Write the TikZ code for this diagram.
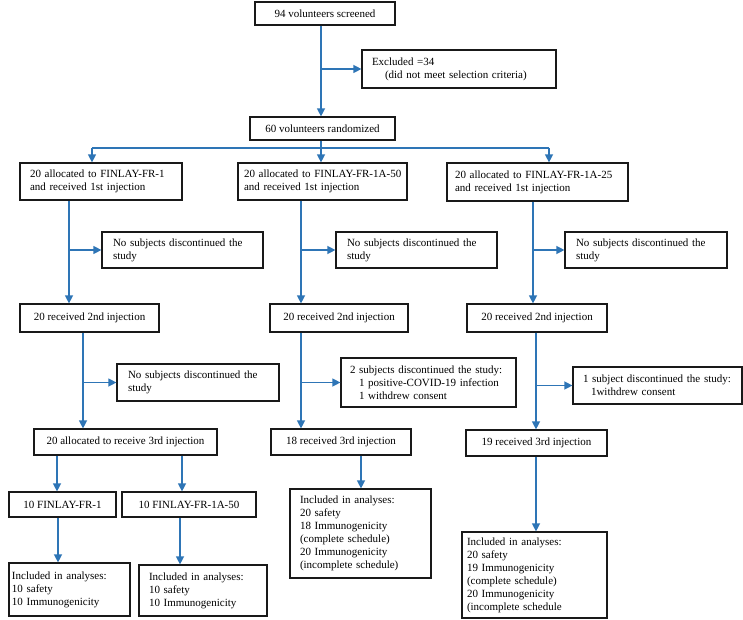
\documentclass[tikz,border=0pt]{standalone}
\usepackage{fontspec}
\setmainfont{Liberation Serif}
\usetikzlibrary{arrows.meta}
\definecolor{flowblue}{RGB}{46,117,182}
\tikzset{
  box/.style={draw=black!90, line width=1.2pt, inner sep=0pt, font=\fontsize{11}{13}\selectfont, align=left},
  cbox/.style={box, align=center},
  flow/.style={draw=flowblue, line width=1.3pt, -{Triangle[length=8pt,width=8pt]}},
  link/.style={draw=flowblue, line width=1.3pt},
}
% name, left, top, right, bottom, left padding, text
\newcommand\bx[7]{%
  \pgfmathsetmacro\bxw{#4-#2}%
  \pgfmathsetmacro\bxh{#5-#3}%
  \pgfmathsetmacro\bxt{#4-#2-2*#6}%
  \node[box, minimum width=\bxw pt, minimum height=\bxh pt, text width=\bxt pt] (#1) at ({(#2+#4)/2},{(#3+#5)/2}) {#7};}
% centred single line box: name, left, top, right, bottom, text
\newcommand\cbx[6]{%
  \pgfmathsetmacro\bxw{#4-#2}%
  \pgfmathsetmacro\bxh{#5-#3}%
  \node[cbox, minimum width=\bxw pt, minimum height=\bxh pt] (#1) at ({(#2+#4)/2},{(#3+#5)/2}) {#6};}
\begin{document}
\begin{tikzpicture}[x=1pt,y=-1pt]
\useasboundingbox (0,0) rectangle (743,620);
% boxes
\cbx{A}{255}{2}{395}{25}{94 volunteers screened}
\bx{B}{362}{50}{556}{88}{10}{Excluded =34\\\hspace*{13pt}(did not meet selection criteria)}
\cbx{R}{250}{117}{395}{140}{60 volunteers randomized}
\bx{C1}{20}{163}{182}{200}{10}{20 allocated to FINLAY-FR-1\\and received 1st injection}
\bx{C2}{238}{163}{407}{200}{6}{\mbox{20 allocated to FINLAY-FR-1A-50}\\and received 1st injection}
\bx{C3}{447}{163}{628}{201}{8}{\mbox{20 allocated to FINLAY-FR-1A-25}\\and received 1st injection}
\bx{N1}{102}{232}{263}{268}{11}{No subjects discontinued the\\study}
\bx{N2}{336}{232}{497}{268}{11}{No subjects discontinued the\\study}
\bx{N3}{565}{232}{727}{268}{11}{No subjects discontinued the\\study}
\cbx{D1}{20}{304}{159}{332}{20 received 2nd injection}
\cbx{D2}{270}{304}{408}{332}{20 received 2nd injection}
\cbx{D3}{467}{304}{607}{332}{20 received 2nd injection}
\bx{E1}{117}{364}{279}{401}{11}{No subjects discontinued the\\study}
\bx{E2}{341}{358}{516}{407}{9}{\mbox{2 subjects discontinued the study:}\\\hspace*{9pt}1 positive-COVID-19 infection\\\hspace*{9pt}1 withdrew consent}
\bx{E3}{573}{367}{742}{404}{10}{\mbox{1 subject discontinued the study:}\\\hspace*{8pt}1withdrew consent}
\cbx{F1}{34}{429}{217}{455}{20 allocated to receive 3rd injection}
\cbx{F2}{271}{429}{411}{455}{18 received 3rd injection}
\cbx{F3}{466}{430}{607}{456}{19 received 3rd injection}
\cbx{G1}{9}{492}{116}{517}{10 FINLAY-FR-1}
\cbx{G2}{122}{492}{256}{517}{10 FINLAY-FR-1A-50}
\bx{H1}{9}{563}{130}{616}{3}{Included in analyses:\\10 safety\\10 Immunogenicity}
\bx{H2}{139}{565}{267}{616}{10}{Included in analyses:\\10 safety\\10 Immunogenicity}
\bx{I2}{290}{489}{431}{578}{10}{Included in analyses:\\20 safety\\18 Immunogenicity\\(complete schedule)\\20 Immunogenicity\\(incomplete schedule)}
\bx{I3}{462}{532}{607}{618}{5}{Included in analyses:\\20 safety\\19 Immunogenicity\\(complete schedule)\\20 Immunogenicity\\(incomplete schedule}
% column positions
\coordinate (k0) at (321,0);
\coordinate (hl) at (92,148);
\coordinate (hr) at (549,148);
\coordinate (c1) at (69,0);
\coordinate (c2) at (301,0);
\coordinate (c3) at (533,0);
\coordinate (d1) at (83,0);
\coordinate (d2) at (301,0);
\coordinate (d3) at (536,0);
\coordinate (g1) at (57,0);
\coordinate (g2) at (182,0);
\coordinate (h1) at (58,0);
\coordinate (h2) at (180,0);
\coordinate (i2) at (361,0);
\coordinate (i3) at (536,0);
% connectors
\draw[flow] (A.south -| k0) -- (R.north -| k0);
\draw[flow] (B.west -| k0) -- (B.west);
\draw[flow] (R.south -| k0) -- (C2.north -| k0);
\draw[link] (hl) -- (hr);
\draw[flow] (hl) -- (C1.north -| hl);
\draw[flow] (hr) -- (C3.north -| hr);
\draw[flow] (C1.south -| c1) -- (D1.north -| c1);
\draw[flow] (C2.south -| c2) -- (D2.north -| c2);
\draw[flow] (C3.south -| c3) -- (D3.north -| c3);
\draw[flow] (N1.west -| c1) -- (N1.west);
\draw[flow] (N2.west -| c2) -- (N2.west);
\draw[flow] (N3.west -| c3) -- (N3.west);
\draw[flow] (D1.south -| d1) -- (F1.north -| d1);
\draw[flow] (D2.south -| d2) -- (F2.north -| d2);
\draw[flow] (D3.south -| d3) -- (F3.north -| d3);
\draw[flow] (E1.west -| d1) -- (E1.west);
\draw[flow] (E2.west -| d2) -- (E2.west);
\draw[flow] (E3.west -| d3) -- (E3.west);
\draw[flow] (F1.south -| g1) -- (G1.north -| g1);
\draw[flow] (F1.south -| g2) -- (G2.north -| g2);
\draw[flow] (G1.south -| h1) -- (H1.north -| h1);
\draw[flow] (G2.south -| h2) -- (H2.north -| h2);
\draw[flow] (F2.south -| i2) -- (I2.north -| i2);
\draw[flow] (F3.south -| i3) -- (I3.north -| i3);
\end{tikzpicture}
\end{document}
